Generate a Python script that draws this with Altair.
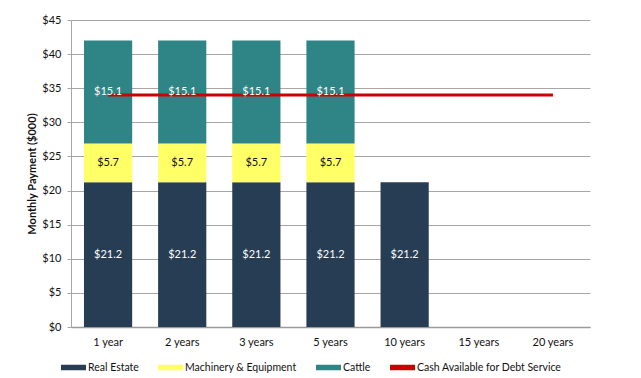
import altair as alt
import pandas as pd

categories = ["1 year", "2 years", "3 years", "5 years", "10 years", "15 years", "20 years"]
series = ["Real Estate", "Machinery & Equipment", "Cattle"]
real_estate = [21.2, 21.2, 21.2, 21.2, 21.2, 0, 0]
machinery = [5.7, 5.7, 5.7, 5.7, 0, 0, 0]
cattle = [15.1, 15.1, 15.1, 15.1, 0, 0, 0]
cash = [34, 34, 34, 34, 34, 34, 34]
line_name = "Cash Available for Debt Service"
colors = ["#263d53", "#ffff66", "#2f8585", "#cc0000"]
y_ticks = [0, 5, 10, 15, 20, 25, 30, 35, 40, 45]

rows = []
for i, c in enumerate(categories):
    for rank, (s, vals) in enumerate(zip(series, [real_estate, machinery, cattle])):
        rows.append({"category": c, "series": s, "value": vals[i], "rank": rank})
bars_df = pd.DataFrame(rows)
line_df = pd.DataFrame({"category": categories, "value": cash, "series": line_name})

color_scale = alt.Scale(domain=series + [line_name], range=colors)
x_scale = alt.Scale(domain=categories, paddingInner=0.35, paddingOuter=0.175)
y_scale = alt.Scale(domain=[0, 45], nice=False)

x_axis = alt.Axis(title=None, labelAngle=0, ticks=False, labelPadding=9, domainColor="#9a9a9a",
                  domainWidth=1.5, grid=False, labelFontSize=11, labelColor="#111")
y_axis = alt.Axis(values=y_ticks, labelExpr="'$' + datum.value", title="Monthly Payment  ($000)",
                  titleFontWeight="bold", titleFontSize=11, grid=True, gridColor="#a6a6a6",
                  domainColor="#a6a6a6", tickColor="#a6a6a6", tickSize=4, labelPadding=6,
                  titlePadding=4, labelFontSize=11, labelColor="#111", titleColor="#111",
                  labelOverlap=False, tickCount=20)

bars = alt.Chart(bars_df).mark_bar().encode(
    x=alt.X("category:N", sort=categories, scale=x_scale, axis=x_axis),
    y=alt.Y("value:Q", stack="zero", scale=y_scale, axis=y_axis),
    color=alt.Color("series:N", scale=color_scale, legend=alt.Legend(
        orient="none", legendX=-10, legendY=335, direction="horizontal", title=None,
        symbolType="M-1,-0.22H1V0.22H-1Z", symbolSize=625, labelFontSize=10.5,
        columnPadding=19, labelOffset=2, symbolStrokeWidth=0, padding=0, labelColor="#111")),
    order=alt.Order("rank:Q", sort="ascending"),
)

line = alt.Chart(line_df).mark_line(strokeWidth=3).encode(
    x=alt.X("category:N", sort=categories, scale=x_scale, axis=x_axis),
    y=alt.Y("value:Q", scale=y_scale, axis=y_axis),
    color=alt.Color("series:N", scale=color_scale, legend=None),
)

text = alt.Chart(bars_df).transform_window(
    end="sum(value)", groupby=["category"], sort=[alt.SortField("rank")], frame=[None, 0]
).transform_calculate(
    mid="datum.end - datum.value / 2", label="'$' + format(datum.value, '.1f')"
).transform_filter("datum.value > 0").mark_text(fontSize=11, baseline="middle").encode(
    x=alt.X("category:N", sort=categories, scale=x_scale, axis=x_axis),
    y=alt.Y("mid:Q", scale=y_scale, axis=y_axis),
    text="label:N",
    color=alt.condition("datum.series == 'Machinery & Equipment'", alt.value("#111"), alt.value("white")),
)

chart = alt.layer(bars, line, text).properties(
    width=519, height=307,
    autosize=alt.AutoSizeParams(type="none"),
    padding={"left": 63, "top": 12, "right": 43, "bottom": 50},
).configure(font="Lato").configure_view(stroke=None)

chart.save("out.html", embed_options={"renderer": "svg", "actions": False})
